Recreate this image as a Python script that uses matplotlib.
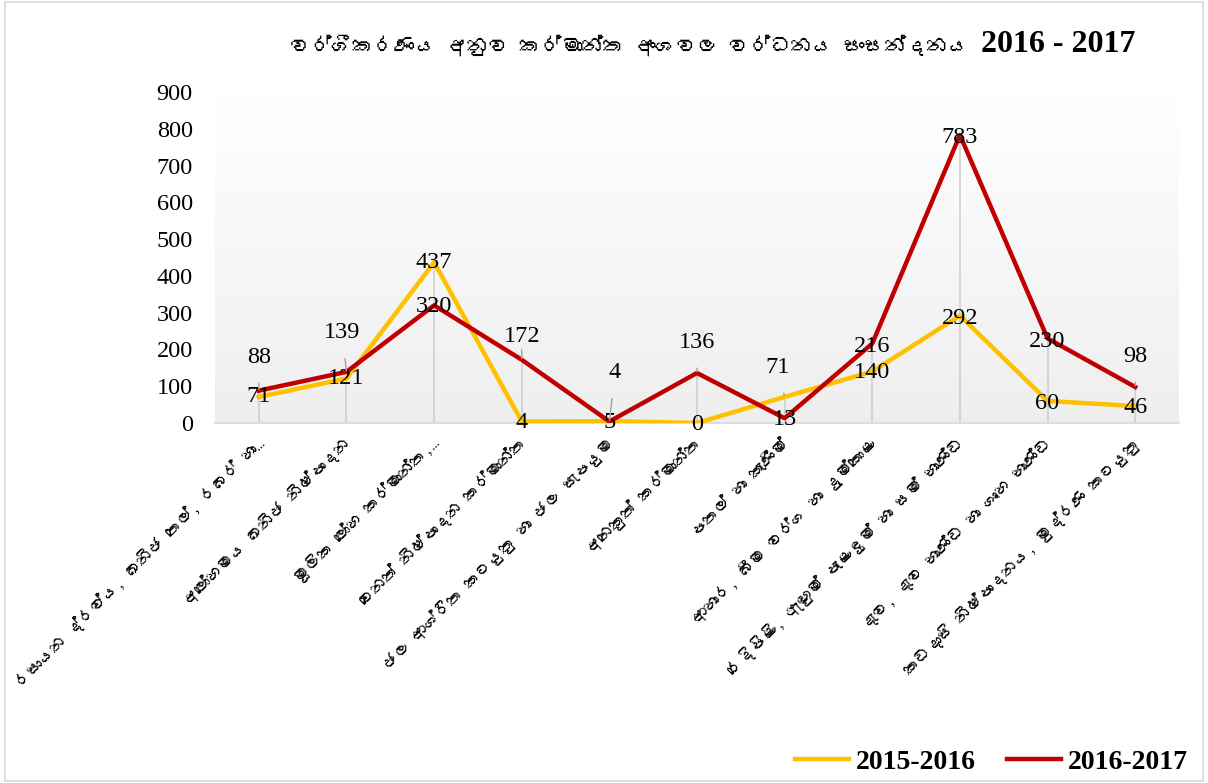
import numpy as np
import matplotlib
matplotlib.use("Agg")
import matplotlib.pyplot as plt
from matplotlib import font_manager
from matplotlib.patches import Rectangle
from matplotlib.transforms import ScaledTranslation

# ---------------- data ----------------
categories = [
    "රසායන ද්‍රව්‍ය, ඛනිජ තෙල්, රබර් හා…",
    "අලෝහමය ඛනිජ නිෂ්පාදන",
    "මූලික ලෝහ කර්මාන්ත,…",
    "වෙනත් නිෂ්පාදන කර්මාන්ත",
    "ජල ආශ්‍රිත කටයුතු හා ජල සැපයුම",
    "අනෙකුත් කර්මාන්ත",
    "පතල් හා කැණීම්",
    "ආහාර, බීම වර්ග හා දුම්කොළ",
    "රෙදිපිළි, ඇඟුම් පැළඳුම් හා සම් භාණ්ඩ",
    "දැව, දැව භාණ්ඩ හා ගෘහ භාණ්ඩ",
    "කඩදාසි නිෂ්පාදනය, මුද්‍රණ කටයුතු",
]
series_2015_2016 = [71, 121, 437, 4, 5, 0, 71, 140, 292, 60, 46]
series_2016_2017 = [88, 139, 320, 172, 4, 136, 13, 216, 783, 230, 98]
series_names = ["2015-2016", "2016-2017"]
title_si = "වර්ගීකරණය අනුව කර්මාන්ත අංශවල වර්ධනය සංසන්දනය"
title_years = "2016 - 2017"
yticks = [0, 100, 200, 300, 400, 500, 600, 700, 800, 900]

# label offsets (points) -- style/position only
off_2015 = [(0, 0), (0, 0), (0, 0), (0, -1), (0, -1), (0, -1), (-5, 21), (0, -1), (0, -2), (0, -2), (0, -1)]
off_2016 = [(0, 24), (-3, 28), (0, -1), (0, 17), (4, 35), (0, 22), (0, -1), (0, -2), (0, -2), (0, -2), (0, 22)]

# ---------------- fonts ----------------
sinhala_font = None
try:
    from fontTools.ttLib import TTFont
    for fe in font_manager.fontManager.ttflist:
        try:
            tt = TTFont(fe.fname, fontNumber=0, lazy=True)
            cm = tt.getBestCmap()
            if cm and 0x0DC3 in cm and 0x0DBB in cm:
                sinhala_font = fe.name
                break
        except Exception:
            pass
except Exception:
    pass

ZWJ = "\u200d"
categories_draw = [c.replace(ZWJ, "") for c in categories]
title_si_draw = title_si.replace(ZWJ, "")

serif = "Liberation Serif"
si_fam = [sinhala_font, serif, "DejaVu Sans"] if sinhala_font else [serif, "DejaVu Sans"]

YELLOW = "#FFC000"
RED = "#C00000"

W, H = 1208, 783
fig = plt.figure(figsize=(W / 100, H / 100), dpi=100)
fig.patch.set_facecolor("white")
renderer = fig.canvas.get_renderer()


def text_width(s, fam, size, weight="normal"):
    t = fig.text(0, 0, s, family=fam, size=size, weight=weight)
    w = t.get_window_extent(renderer).width
    t.remove()
    return w


fig.add_artist(Rectangle((0.004, 0.003), 0.992, 0.994, transform=fig.transFigure,
                         fill=False, edgecolor="#d9d9d9", lw=1.2))

ax = fig.add_axes([215 / W, 1 - 423 / H, (1179 - 215) / W, (423 - 92) / H])
x = np.arange(len(categories))

# gradient background
grad = np.linspace(1.0, 0.935, 256).reshape(-1, 1)
ax.imshow(np.dstack([grad, grad, grad]), extent=[0, 1, 0, 1], transform=ax.transAxes,
          aspect="auto", zorder=0)

ax.set_xlim(-0.5, len(categories) - 0.5)
ax.set_ylim(0, 900)

# drop lines
ax.vlines(x, 0, np.maximum(series_2015_2016, series_2016_2017), color="#d0d0d0", lw=1.2, zorder=1)

ax.plot(x, series_2015_2016, color=YELLOW, lw=3.2, zorder=3, label=series_names[0],
        solid_joinstyle="round")
ax.plot(x, series_2016_2017, color=RED, lw=3.2, zorder=4, label=series_names[1],
        solid_joinstyle="round")


def labels(vals, offs):
    for xi, v, (dx, dy) in zip(x, vals, offs):
        lead = dy > 10
        ax.annotate(str(v), (xi, v), xytext=(dx, dy), textcoords="offset points",
                    ha="center", va="center", fontsize=17.5, family=serif, color="#000000",
                    zorder=6,
                    arrowprops=dict(arrowstyle="-", color="#a6a6a6", lw=1.1,
                                    shrinkA=9, shrinkB=1) if lead else None)


labels(series_2015_2016, off_2015)
labels(series_2016_2017, off_2016)

ax.set_yticks(yticks)
ax.set_yticklabels([str(t) for t in yticks], fontsize=17.5, family=serif)
ax.set_xticks(x)
ax.set_xticklabels([])
ax.tick_params(axis="y", length=0, pad=16)
ax.tick_params(axis="x", length=0)
for s in ["left", "right", "top"]:
    ax.spines[s].set_visible(False)
ax.spines["bottom"].set_color("#d9d9d9")
ax.spines["bottom"].set_linewidth(1.2)

# category labels, fitted so the first label is ~345 px long
w0 = text_width(categories_draw[0], si_fam, 10)
cat_size = 10 * 345 / w0 if w0 > 0 else 11
cat_size = max(8, min(cat_size, 15))
off = ScaledTranslation(2 / 100, -18 / 100, fig.dpi_scale_trans)
for xi, c in zip(x, categories_draw):
    ax.text(xi, 0, c, transform=ax.get_xaxis_transform() + off, rotation=45,
            rotation_mode="anchor", ha="right", va="center", fontsize=cat_size,
            family=si_fam, clip_on=False)

# title
wy = text_width(title_years, serif, 23, "bold")
ws = text_width(title_si_draw, si_fam, 17, "bold")
avail = 1135 - wy - 12 - 290
si_size = 17 * avail / ws if ws > 0 else 17
si_size = max(10, min(si_size, 20))
fig.text(290 / W, 1 - 45 / H, title_si_draw, fontsize=si_size, family=si_fam, ha="left",
         va="center", fontweight="bold")
fig.text(1135 / W, 1 - 45 / H, title_years, fontsize=23, family=serif, ha="right",
         va="center", fontweight="bold")

leg = fig.legend(loc="center right", bbox_to_anchor=(1188 / W, 1 - 762 / H), ncol=2,
                 frameon=False, prop=dict(family=serif, weight="bold", size=20),
                 handlelength=1.95, columnspacing=1.1, handletextpad=0.25,
                 borderaxespad=0, borderpad=0)

fig.savefig("out.png", dpi=100)
